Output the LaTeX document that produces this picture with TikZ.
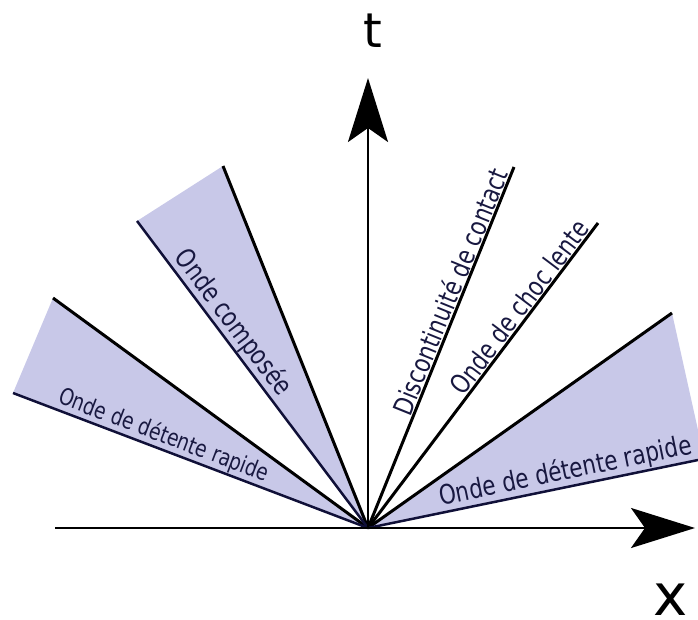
\documentclass[tikz,border=0pt]{standalone}
\usepackage{fontspec}
\newfontfamily\labfont[FakeStretch=0.8]{DejaVu Sans}
\newfontfamily\axfont{DejaVu Sans}
\usetikzlibrary{arrows.meta}
\definecolor{fanfill}{RGB}{200,200,232}
\definecolor{navyline}{RGB}{16,16,56}
\definecolor{navytext}{RGB}{24,24,64}
\begin{document}
\begin{tikzpicture}[x=1bp,y=-1bp,
  wave/.style={line width=3bp, black},
  wavelow/.style={line width=2.5bp, navyline},
  axisline/.style={line width=2.5bp, black, -{Stealth[length=64bp,width=40bp,inset=14bp]}},
  lbl/.style={text=navytext, inner sep=0.5bp, sloped},
  lblbig/.style={lbl, font=\labfont\fontsize{27}{28}\selectfont},
  lblsmall/.style={lbl, font=\labfont\fontsize{23.4}{24}\selectfont},
  axlabel/.style={text=black, inner sep=0pt, anchor=base}
]
\useasboundingbox (0,0) rectangle (698,620);
\coordinate (O) at (368,528);
\coordinate (L1) at (53,298);
\coordinate (L2) at (13,393);
\coordinate (C1) at (223,166);
\coordinate (C2) at (137,221);
\coordinate (D) at (514,167);
\coordinate (S) at (598,223);
\coordinate (R1) at (672,313);
\coordinate (Rc) at (698,430);
\coordinate (R2) at (698,460);
\coordinate (XA) at (55,528);
\coordinate (XB) at (695,528);
\coordinate (TB) at (368,78);

% fans
\fill[fanfill] (O) -- (L2) -- (L1) -- cycle;
\fill[fanfill] (O) -- (C2) -- (C1) -- cycle;
\fill[fanfill] (O) -- (R1) -- (Rc) -- (R2) -- cycle;

% wave lines
\draw[wave] (O) -- (L1);
\draw[wavelow] (L2) -- (O) node[lblsmall, pos=0.113, anchor=south west] (lleft) {Onde de détente rapide};
\draw[wave] (O) -- (C1);
\draw[wavelow] (C2) -- (O) node[lblbig, pos=0.13, anchor=south west] (lcomp) {Onde composée};
\draw[wave] (O) -- (D) node[lblbig, pos=0.985, anchor=south east] (lcont) {Discontinuité de contact};
\draw[wave] (O) -- (S) node[lblbig, pos=0.98, anchor=south east] (lshock) {Onde de choc lente};
\draw[wave] (O) -- (R1);
\draw[wavelow] (O) -- (R2) node[lblbig, pos=0.995, anchor=south east] (lright) {Onde de détente rapide};

% axes
\draw[axisline] (XA) -- (XB);
\draw[axisline] (O) -- (TB);
\node[axlabel, font=\axfont\fontsize{48}{48}\selectfont] (tlab) at (373,48) {t};
\node[axlabel, font=\axfont\fontsize{58}{58}\selectfont] (xlab) at (671,615) {x};
\end{tikzpicture}
\end{document}
